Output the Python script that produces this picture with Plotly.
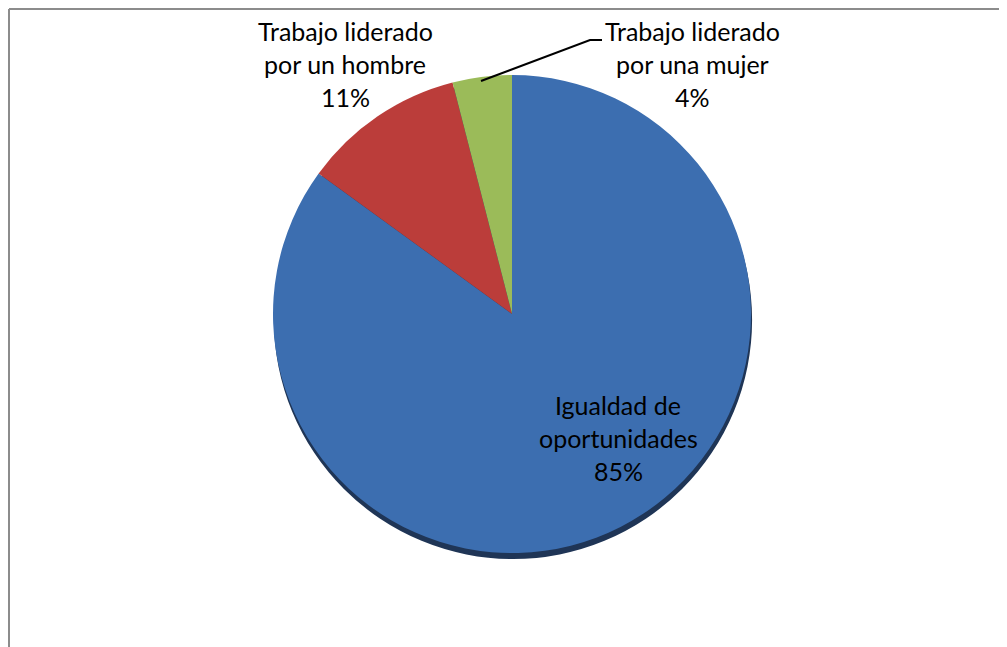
import plotly.graph_objects as go

labels = ["Igualdad de oportunidades", "Trabajo liderado por un hombre", "Trabajo liderado por una mujer"]
label_lines = [["Igualdad de", "oportunidades"], ["Trabajo liderado", "por un hombre"], ["Trabajo liderado", "por una mujer"]]
values = [85, 11, 4]
pct_text = ["85%", "11%", "4%"]
colors = ["#3c6eb0", "#bb3d3a", "#9bbb59"]

OFF = 8  # page body margin
W, H = 1007 - OFF, 647 - OFF
cx, cy, r = 512, 314, 239

def px_x(x):
    return (x - OFF) / W

def px_y(y):
    return 1 - (y - OFF) / H

fig = go.Figure()

# shadow under the pie
sh = 6
fig.add_trace(go.Pie(
    values=[1], marker=dict(colors=["#1f3556"], line=dict(width=0)),
    textinfo="none", hoverinfo="skip", sort=False, showlegend=False,
    domain=dict(x=[px_x(cx - r + 1), px_x(cx + r + 1)], y=[px_y(cy + r + sh), px_y(cy - r + sh)]),
))

fig.add_trace(go.Pie(
    labels=labels, values=values, sort=False, direction="clockwise", rotation=0,
    marker=dict(colors=colors, line=dict(width=0)),
    textinfo="none", showlegend=False,
    domain=dict(x=[px_x(cx - r), px_x(cx + r)], y=[px_y(cy + r), px_y(cy - r)]),
))

font = dict(family="Lato, Open Sans, sans-serif", size=25, color="#000000")
# (center x, first line center y, line spacing)
pos = [(618, 405, 33), (345, 31, 33), (692, 31, 33)]
annotations = []
for lines, p, (x, y, dy) in zip(label_lines, pct_text, pos):
    for i, t in enumerate(lines + [p]):
        annotations.append(dict(
            x=px_x(x), y=px_y(y + i * dy), xref="paper", yref="paper",
            text=t, showarrow=False, font=font,
            xanchor="center", yanchor="middle",
        ))

shapes = [
    dict(type="line", xref="paper", yref="paper", x0=px_x(9), x1=px_x(9), y0=-0.1, y1=px_y(9),
         line=dict(color="#8c8c8c", width=2)),
    dict(type="line", xref="paper", yref="paper", x0=px_x(9), x1=1.1, y0=px_y(9), y1=px_y(9),
         line=dict(color="#8c8c8c", width=2)),
    dict(type="path", xref="paper", yref="paper",
         path=f"M {px_x(481)} {px_y(81)} L {px_x(590)} {px_y(40)} L {px_x(602)} {px_y(40)}",
         line=dict(color="#000000", width=2)),
]

fig.update_layout(
    width=W, height=H, margin=dict(l=0, r=0, t=0, b=0),
    paper_bgcolor="#ffffff", plot_bgcolor="#ffffff",
    annotations=annotations, shapes=shapes,
)

fig.write_html("out.html")
